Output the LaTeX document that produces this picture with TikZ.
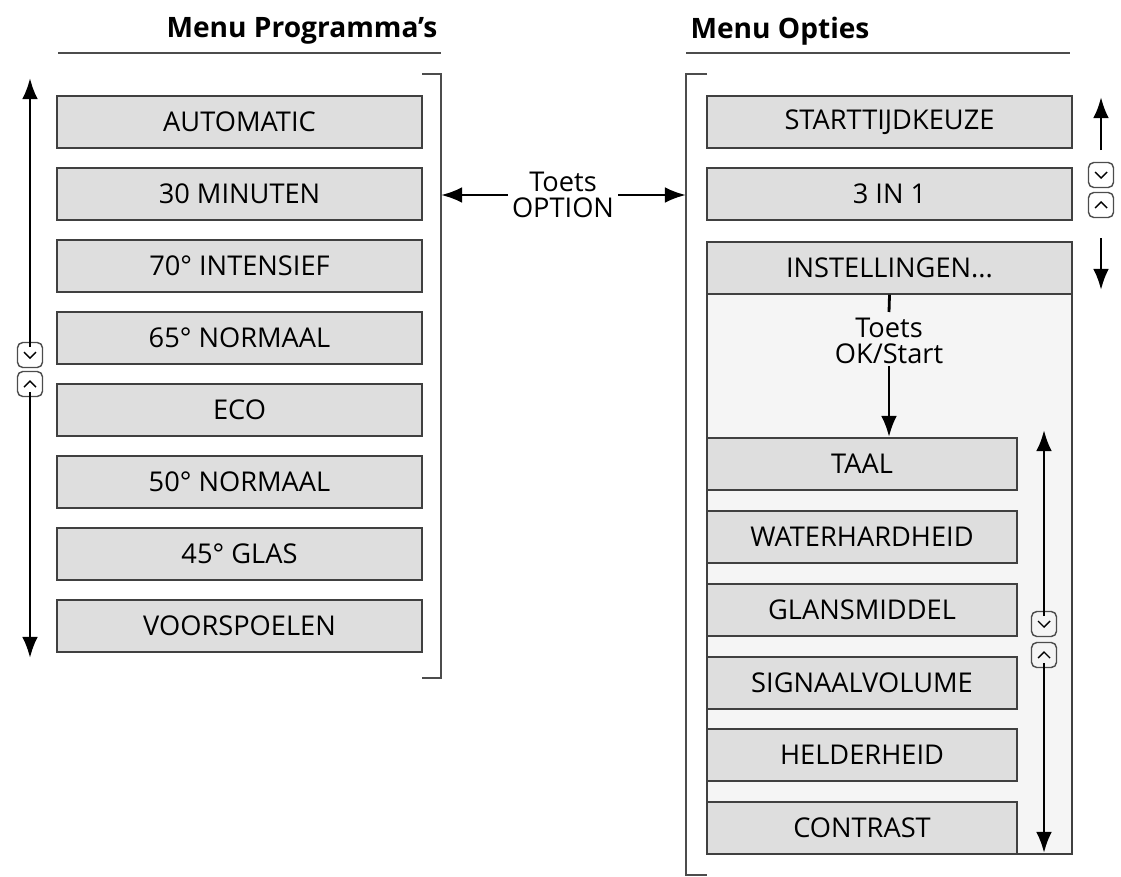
\documentclass[tikz,border=0pt]{standalone}
\usepackage{fontspec}
\setmainfont{Open Sans}
\usetikzlibrary{arrows.meta}
\begin{document}
\begin{tikzpicture}[x=0.02cm,y=-0.02cm,line width=0.8pt,
  every node/.style={font=\fontsize{15.5}{18}\selectfont},
  item/.style={draw=black!75,fill=black!13,minimum height=1.04cm,inner sep=0pt},
  pitem/.style={item,minimum width=7.3cm},
  sitem/.style={item,minimum width=6.2cm},
  nav/.style={-{Latex[length=12pt,width=9pt]},line width=1.6pt},
  key/.style={draw=black!70,rounded corners=3pt,minimum size=0.5cm,inner sep=0pt,line width=0.8pt}]
\useasboundingbox (0,0) rectangle (1121,876);
% headings
\node[anchor=east,font=\fontsize{16}{19}\selectfont\bfseries] (hprog) at (444,31) {Menu Programma's};
\draw[black!70] (58,53) -- (441,53);
\node[anchor=west,font=\fontsize{16}{19}\selectfont\bfseries] (hopt) at (684,31) {Menu Opties};
\draw[black!70] (686,53) -- (1070,53);
% programs
\node[pitem] (p1) at (239.5,122) {AUTOMATIC};
\node[pitem] (p2) at (239.5,194) {30 MINUTEN};
\node[pitem] (p3) at (239.5,266) {70° INTENSIEF};
\node[pitem] (p4) at (239.5,338) {65° NORMAAL};
\node[pitem] (p5) at (239.5,410) {ECO};
\node[pitem] (p6) at (239.5,482) {50° NORMAAL};
\node[pitem] (p7) at (239.5,554) {45° GLAS};
\node[pitem] (p8) at (239.5,626) {VOORSPOELEN};
\draw[black!70] (422,74) -- (441,74) -- (441,678) -- (422,678);
\node[key] (kd1) at (30,355) {};
\node[key] (ku1) at (30,384) {};
\draw ([shift={(-6,-3)}]kd1.center) -- ([shift={(0,3)}]kd1.center) -- ([shift={(6,-3)}]kd1.center);
\draw ([shift={(-6,3)}]ku1.center) -- ([shift={(0,-3)}]ku1.center) -- ([shift={(6,3)}]ku1.center);
\draw[nav] ([yshift=-3pt]kd1.north) -- (30,78);
\draw[nav] ([yshift=3pt]ku1.south) -- (30,658);
% option key
\node[align=center,inner sep=2pt] (opt) at (563,195) {Toets\\[-3pt]OPTION};
\draw[nav] (opt.west) -- (441,195);
\draw[nav] (opt.east) -- (686,195);
% options
\draw[black!70] (707,74) -- (686,74) -- (686,875) -- (707,875);
\fill[black!4] (707,242) rectangle (1072,854);
\draw[black!75] (707,242) rectangle (1072,854);
\node[pitem] (o1) at (889.5,122) {STARTTIJDKEUZE};
\node[pitem] (o2) at (889.5,194) {3 IN 1};
\node[pitem] (o3) at (889.5,268) {INSTELLINGEN...};
\node[key] (kd2) at (1101,175) {};
\node[key] (ku2) at (1101,205) {};
\draw ([shift={(-6,-3)}]kd2.center) -- ([shift={(0,3)}]kd2.center) -- ([shift={(6,-3)}]kd2.center);
\draw ([shift={(-6,3)}]ku2.center) -- ([shift={(0,-3)}]ku2.center) -- ([shift={(6,3)}]ku2.center);
\draw[nav] (1101,150) -- (1101,97);
\draw[nav] (1101,238) -- (1101,290);
% settings
\node[align=center,inner sep=1pt] (ok) at (889,341) {Toets\\[-3pt]OK/Start};
\draw[line width=1.6pt] (o3.south) -- (889,312);
\node[sitem] (s1) at (862,464) {TAAL};
\node[sitem] (s2) at (862,537) {WATERHARDHEID};
\node[sitem] (s3) at (862,610) {GLANSMIDDEL};
\node[sitem] (s4) at (862,683) {SIGNAALVOLUME};
\node[sitem] (s5) at (862,755) {HELDERHEID};
\node[sitem] (s6) at (862,828) {CONTRAST};
\draw[nav] (ok.south) -- (889,437);
\node[key] (kd3) at (1044,624) {};
\node[key] (ku3) at (1044,655) {};
\draw ([shift={(-6,-3)}]kd3.center) -- ([shift={(0,3)}]kd3.center) -- ([shift={(6,-3)}]kd3.center);
\draw ([shift={(-6,3)}]ku3.center) -- ([shift={(0,-3)}]ku3.center) -- ([shift={(6,3)}]ku3.center);
\draw[nav] ([yshift=-3pt]kd3.north) -- (1044,430);
\draw[nav] ([yshift=3pt]ku3.south) -- (1044,853);
\end{tikzpicture}
\end{document}
